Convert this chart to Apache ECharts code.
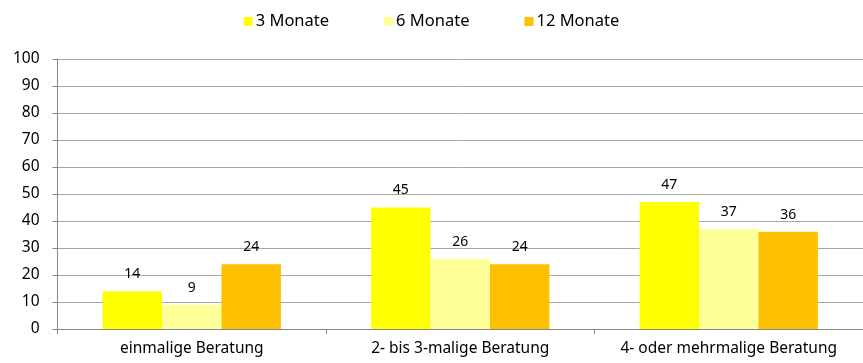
<!DOCTYPE html>
<html><head><meta charset="utf-8">
<script src="https://cdn.jsdelivr.net/npm/echarts@6/dist/echarts.min.js"></script>
<style>html,body{margin:0;padding:0;background:#fff}#c{width:863px;height:363px}</style>
</head><body><div id="c"></div>
<script>
const categories = ['einmalige Beratung', '2- bis 3-malige Beratung', '4- oder mehrmalige Beratung'];
const seriesNames = ['3 Monate', '6 Monate', '12 Monate'];
const months3 = [14, 45, 47];
const months6 = [9, 26, 37];
const months12 = [24, 24, 36];
const colors = ['#FFFF00', '#FFFF99', '#FFC000'];
const FONT = 'Noto Sans';
const chart = echarts.init(document.getElementById('c'), null, {renderer: 'canvas'});
const mk = (name, data, color) => ({
  name, type: 'bar', data, barGap: '0%', barCategoryGap: '33.6%',
  itemStyle: {color},
  label: {show: true, position: 'top', distance: 10, color: '#000', fontFamily: FONT, fontSize: 14}
});
chart.setOption({
  animation: false,
  color: colors,
  legend: {
    top: 8, left: 'center', itemWidth: 9, itemHeight: 9, itemGap: 55,
    icon: 'rect',
    textStyle: {fontFamily: FONT, fontSize: 16.5, color: '#000', padding: [0,0,0,-2]},
    data: seriesNames
  },
  grid: {left: 57.5, right: -8, top: 59, bottom: 34, containLabel: false},
  xAxis: {
    type: 'category', data: categories,
    axisLine: {lineStyle: {color: '#868686'}},
    axisTick: {show: true, length: 5, lineStyle: {color: '#868686'}},
    axisLabel: {color: '#000', fontFamily: FONT, fontSize: 15.5, margin: 12, interval: 0, hideOverlap: false}
  },
  yAxis: {
    type: 'value', min: 0, max: 100, interval: 10,
    axisLine: {show: true, lineStyle: {color: '#868686'}},
    axisTick: {show: true, length: 5, lineStyle: {color: '#868686'}},
    splitLine: {lineStyle: {color: '#A6A6A6'}},
    axisLabel: {color: '#000', fontFamily: FONT, fontSize: 15.5, margin: 18}
  },
  series: [mk(seriesNames[0], months3, colors[0]), mk(seriesNames[1], months6, colors[1]), mk(seriesNames[2], months12, colors[2])]
});
</script></body></html>
